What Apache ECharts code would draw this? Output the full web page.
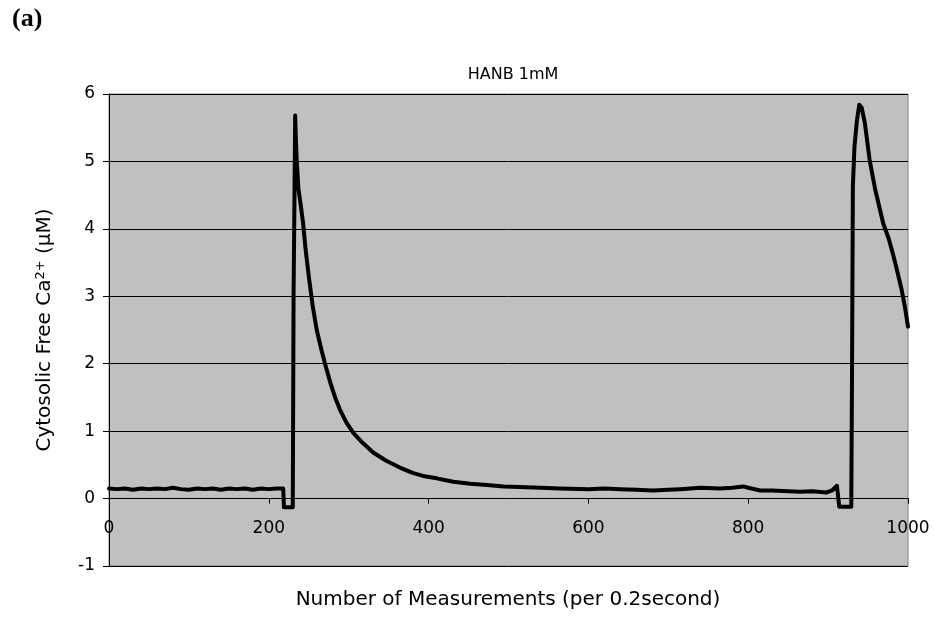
<!DOCTYPE html>
<html>
<head>
<meta charset="utf-8">
<title>HANB 1mM</title>
<script src="https://cdn.jsdelivr.net/npm/echarts@6/dist/echarts.min.js"></script>
<style>
  html, body { margin: 0; padding: 0; background: #fff; }
  #main { width: 934px; height: 622px; }
</style>
</head>
<body>
<div id="main"></div>
<script>
var measurements = [
  0, 10, 20, 30, 40, 50, 60, 70, 80, 90, 100, 110, 120, 130, 140, 150, 160, 170, 180, 190, 200, 210, 218,
  219, 230, 231, 232, 233, 234, 235, 237, 240, 243, 246, 250, 255, 260, 266, 272, 277, 283, 289, 297, 306,
  318, 331, 347, 364, 380, 395, 410, 431, 452, 473, 494, 514, 540, 564, 600, 620, 640, 660, 681, 700, 715,
  740, 765, 780, 794, 800, 815, 830, 850, 865, 880, 898, 905, 911,
  914, 929, 930, 931, 933, 936, 939, 940, 942, 946, 952, 959, 969, 976, 982, 987, 992, 996, 1000
];
var calcium = [
  0.15, 0.14, 0.15, 0.13, 0.15, 0.14, 0.15, 0.14, 0.16, 0.14, 0.13, 0.15, 0.14, 0.15, 0.13, 0.15, 0.14, 0.15, 0.13, 0.15, 0.14, 0.15, 0.15,
  -0.13, -0.13, 3.0, 4.3, 5.68, 5.3, 5.0, 4.6, 4.35, 4.08, 3.7, 3.3, 2.85, 2.5, 2.2, 1.93, 1.72, 1.5, 1.32, 1.13, 0.97,
  0.82, 0.68, 0.56, 0.46, 0.38, 0.33, 0.30, 0.25, 0.22, 0.20, 0.18, 0.17, 0.16, 0.15, 0.14, 0.15, 0.14, 0.13, 0.12, 0.13, 0.14,
  0.16, 0.15, 0.16, 0.18, 0.16, 0.12, 0.12, 0.11, 0.10, 0.11, 0.09, 0.12, 0.19,
  -0.12, -0.12, 2.0, 4.63, 5.22, 5.6, 5.84, 5.86, 5.8, 5.57, 5.02, 4.58, 4.08, 3.85, 3.59, 3.35, 3.10, 2.85, 2.55
];
var yTicks = { min: -1, max: 6, interval: 1 };
var xTicks = { min: 0, max: 1000, interval: 200 };

var points = measurements.map(function (m, i) { return [m, calcium[i]]; });

var chart = echarts.init(document.getElementById('main'));
var font = '"DejaVu Sans", Arial, sans-serif';

chart.setOption({
  animation: false,
  textStyle: { fontFamily: font, color: '#000' },
  title: {
    text: 'HANB 1mM',
    left: 508,
    top: 62,
    textAlign: 'center',
    textStyle: { fontFamily: font, fontSize: 16, fontWeight: 'normal', color: '#000' }
  },
  graphic: [
    {
      type: 'text', left: 12, top: 6,
      style: { text: '(a)', font: 'bold 26px "Liberation Serif", "Times New Roman", serif', fill: '#000' }
    },
    {
      type: 'text', x: 508, y: 600,
      style: {
        text: 'Number of Measurements (per 0.2second)',
        font: '20px ' + font, fill: '#000', align: 'center', verticalAlign: 'middle'
      }
    }
  ],
  grid: {
    left: 109, right: 26, top: 94, bottom: 56,
    show: true,
    backgroundColor: '#c0c0c0',
    borderColor: '#808080',
    borderWidth: 1
  },
  xAxis: {
    type: 'value',
    min: xTicks.min, max: xTicks.max, interval: xTicks.interval,
    position: 'bottom',
    offset: -67.4,
    axisLine: { onZero: false, lineStyle: { color: '#000', width: 1 } },
    axisTick: { show: true, length: 5, lineStyle: { color: '#000' } },
    axisLabel: { fontSize: 17, color: '#000', fontFamily: font, margin: 21, formatter: function (v) { return String(v); } },
    splitLine: { show: false }
  },
  yAxis: {
    type: 'value',
    min: yTicks.min, max: yTicks.max, interval: yTicks.interval,
    name: '{n|Cytosolic Free Ca}{s|2+}{n| (μM)}',
    nameLocation: 'middle',
    nameRotate: 90,
    nameGap: 53,
    nameTextStyle: {
      rich: {
        n: { fontSize: 20, fontFamily: font, color: '#000' },
        s: { fontSize: 13, fontFamily: font, color: '#000', verticalAlign: 'top', padding: [0, 0, 9, 0] }
      }
    },
    axisLine: { show: true, lineStyle: { color: '#000', width: 1 } },
    axisTick: { show: true, length: 6, lineStyle: { color: '#000' } },
    axisLabel: { fontSize: 17, color: '#000', fontFamily: font, margin: 14 },
    splitLine: { show: true, lineStyle: { color: '#000', width: 1 } }
  },
  series: [
    {
      type: 'line',
      data: points,
      showSymbol: false,
      lineStyle: { color: '#000', width: 4, join: 'round', cap: 'round' },
      itemStyle: { color: '#000' }
    }
  ]
});
</script>
</body>
</html>
